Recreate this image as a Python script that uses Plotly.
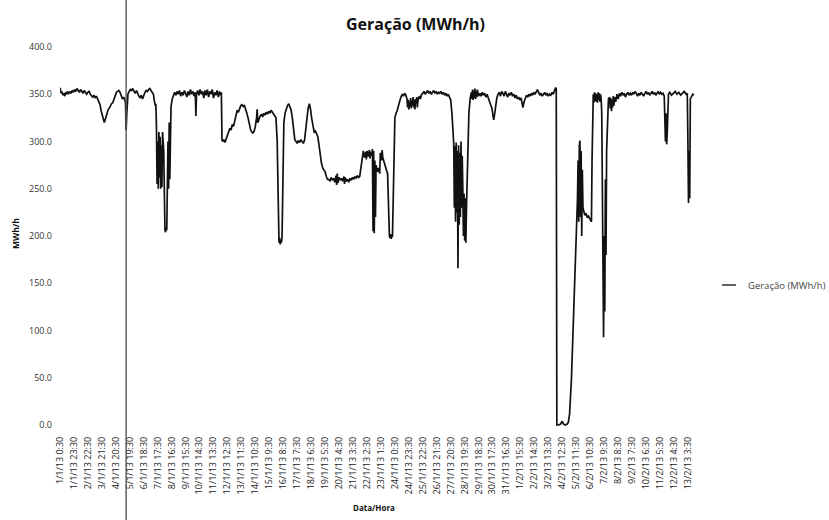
import pandas as pd
import plotly.graph_objects as go

# Hourly generation series, keyed by hours elapsed since the first reading.
START = pd.Timestamp("2013-01-01 00:30")
GERACAO_MWH = {
    0: 357, 1: 354, 2: 351, 3: 353, 5: 349, 6: 351, 8: 348, 9: 352, 11: 350, 12: 353,
    14: 350, 16: 353, 18: 351, 20: 354, 22: 352, 24: 355, 26: 353, 28: 356, 30: 354, 32: 352,
    34: 355, 36: 353, 38: 351, 40: 354, 42: 352, 44: 350, 46: 352, 48: 353, 50: 350, 52: 348,
    54: 347, 56: 349, 58: 346, 60: 348, 62: 345, 64: 343, 66: 339, 68: 332, 70: 326, 72: 322,
    73: 320, 75: 324, 77: 330, 79: 333, 81: 335, 83: 338, 85: 340, 87: 341, 89: 345, 91: 349,
    93: 352, 95: 353, 97: 354, 99: 352, 101: 348, 103: 345, 105: 347, 107: 344, 108: 340, 109: 312,
    110: 328, 111: 345, 112: 350, 114: 353, 116: 355, 118: 354, 120: 356, 122: 353, 124: 351, 126: 354,
    128: 350, 130: 348, 132: 346, 134: 349, 136: 345, 138: 350, 140: 352, 142: 354, 144: 353, 146: 355,
    148: 356, 150: 354, 152: 352, 154: 350, 155: 345, 156: 342, 157: 338, 158: 340, 159: 315, 160: 255,
    161: 300, 162: 250, 163: 310, 164: 262, 165: 305, 166: 250, 167: 296, 168: 252, 169: 310, 170: 300,
    171: 290, 172: 230, 173: 207, 174: 204, 175: 209, 176: 206, 177: 240, 178: 300, 179: 250, 180: 320,
    181: 260, 182: 330, 183: 337, 185: 345, 187: 350, 189: 352, 191: 349, 193: 353, 195: 350, 197: 354,
    199: 348, 201: 352, 203: 349, 205: 354, 207: 351, 209: 347, 211: 353, 213: 349, 215: 355, 217: 350,
    219: 353, 221: 348, 223: 352, 224: 327, 225: 350, 227: 354, 229: 349, 231: 355, 233: 350, 235: 353,
    237: 346, 239: 354, 241: 349, 243: 355, 245: 347, 247: 353, 249: 350, 251: 355, 253: 346, 255: 352,
    257: 349, 259: 354, 261: 347, 263: 353, 265: 349, 266: 352, 267: 302, 268: 300, 270: 302, 272: 299,
    274: 303, 276: 306, 278: 310, 280: 314, 282: 312, 284: 318, 286: 316, 288: 321, 290: 328, 292: 333,
    294: 331, 296: 336, 298: 338, 300: 339, 302: 337, 304: 338, 306: 335, 308: 330, 310: 325, 312: 318,
    314: 313, 316: 310, 318: 309, 320: 311, 322: 316, 324: 325, 325: 334, 326: 320, 328: 324, 330: 327,
    332: 329, 334: 326, 336: 330, 338: 328, 340: 331, 342: 329, 344: 332, 346: 330, 348: 333, 350: 331,
    352: 329, 354: 327, 356: 325, 358: 300, 359: 250, 360: 196, 361: 193, 362: 198, 363: 191, 364: 196,
    365: 193, 366: 199, 367: 240, 368: 290, 369: 320, 371: 330, 373: 335, 375: 338, 377: 340, 379: 337,
    381: 333, 383: 325, 385: 310, 387: 302, 389: 300, 391: 298, 393: 301, 395: 299, 397: 302, 399: 300,
    401: 298, 403: 301, 405: 312, 407: 325, 409: 335, 411: 340, 413: 334, 415: 324, 417: 315, 419: 310,
    421: 311, 423: 308, 425: 305, 427: 296, 429: 285, 431: 277, 433: 272, 435: 270, 437: 268, 439: 263,
    441: 260, 443: 260, 445: 258, 447: 262, 449: 259, 451: 261, 453: 257, 455: 264, 456: 254, 457: 266,
    458: 256, 460: 262, 462: 259, 464: 261, 466: 258, 468: 263, 469: 255, 470: 262, 472: 258, 474: 260,
    476: 257, 478: 261, 480: 259, 482: 262, 484: 260, 486: 263, 488: 261, 490: 264, 492: 262, 494: 263,
    496: 272, 498: 286, 500: 290, 502: 283, 504: 289, 505: 281, 506: 290, 508: 284, 510: 291, 511: 282,
    512: 289, 514: 285, 515: 292, 516: 205, 517: 290, 518: 203, 519: 280, 520: 220, 521: 275, 523: 268,
    525: 272, 527: 266, 528: 288, 530: 280, 531: 291, 532: 283, 534: 278, 536: 272, 538: 270, 540: 266,
    541: 240, 542: 210, 543: 200, 544: 198, 545: 202, 546: 197, 547: 200, 548: 199, 549: 230, 550: 280,
    551: 310, 552: 325, 554: 330, 556: 333, 558: 338, 560: 344, 562: 347, 564: 350, 566: 348, 568: 351,
    570: 349, 572: 345, 573: 336, 574: 344, 575: 334, 576: 342, 577: 337, 578: 346, 579: 335, 580: 343,
    581: 338, 582: 347, 583: 336, 584: 344, 585: 334, 586: 345, 587: 340, 588: 347, 589: 336, 590: 343,
    592: 348, 594: 345, 596: 350, 598: 351, 600: 353, 602: 350, 604: 352, 606: 354, 608: 351, 610: 353,
    612: 350, 614: 352, 616: 354, 618: 351, 620: 353, 622: 350, 624: 352, 626: 351, 628: 353, 630: 350,
    632: 352, 634: 349, 636: 351, 638: 348, 640: 350, 642: 347, 644: 344, 646: 330, 648: 312, 649: 298,
    650: 230, 651: 295, 652: 215, 653: 299, 654: 225, 655: 290, 656: 166, 657: 296, 658: 212, 659: 288,
    660: 220, 661: 300, 662: 230, 663: 285, 664: 249, 665: 200, 666: 245, 667: 195, 668: 240, 669: 193,
    670: 230, 671: 260, 672: 300, 674: 330, 676: 345, 678: 352, 679: 345, 680: 355, 681: 344, 682: 354,
    683: 346, 684: 356, 685: 345, 686: 353, 687: 347, 688: 355, 690: 348, 692: 351, 694: 348, 696: 352,
    698: 349, 700: 351, 702: 347, 704: 350, 706: 346, 708: 343, 710: 338, 712: 335, 714: 326, 715: 323,
    716: 327, 718: 340, 720: 346, 722: 350, 724: 352, 726: 348, 728: 353, 730: 351, 732: 348, 734: 353,
    736: 350, 738: 347, 740: 351, 742: 349, 744: 352, 746: 348, 748: 350, 750: 346, 752: 349, 754: 345,
    756: 347, 758: 344, 760: 346, 762: 340, 763: 336, 765: 342, 767: 346, 769: 349, 771: 347, 773: 350,
    775: 348, 777: 351, 779: 349, 781: 352, 783: 350, 785: 353, 787: 355, 789: 352, 791: 349, 793: 351,
    795: 348, 797: 350, 799: 352, 801: 349, 803: 351, 805: 348, 807: 350, 809: 349, 811: 352, 813: 350,
    815: 353, 817: 357, 818: 356, 819: 0, 822: 0, 825: 1, 828: 4, 830: 1, 833: 0, 836: 1,
    838: 3, 840: 12, 843: 48, 845: 83, 847: 130, 849: 171, 851: 200, 852: 207, 853: 240, 854: 280,
    855: 215, 856: 295, 857: 301, 858: 220, 859: 290, 860: 200, 861: 270, 862: 230, 863: 226, 865: 222,
    867: 224, 869: 220, 871: 221, 873: 218, 875: 217, 876: 215, 877: 280, 878: 347, 879: 350, 880: 341,
    881: 352, 882: 343, 883: 351, 884: 342, 885: 350, 886: 341, 887: 352, 888: 344, 889: 351, 890: 342,
    891: 350, 892: 345, 893: 330, 894: 250, 895: 160, 896: 93, 897: 200, 898: 120, 899: 260, 900: 180,
    901: 290, 902: 320, 903: 330, 904: 345, 906: 347, 907: 335, 908: 346, 909: 332, 910: 344, 911: 336,
    912: 348, 913: 338, 914: 347, 916: 342, 918: 350, 920: 345, 922: 351, 924: 348, 926: 352, 928: 349,
    930: 351, 932: 347, 934: 350, 936: 352, 938: 349, 940: 351, 942: 349, 944: 352, 946: 350, 948: 353,
    950: 351, 952: 348, 954: 351, 956: 349, 958: 352, 960: 350, 962: 348, 964: 351, 966: 353, 968: 350,
    970: 352, 972: 349, 974: 351, 976: 353, 978: 350, 980: 352, 982: 349, 984: 351, 986: 353, 988: 350,
    990: 352, 992: 350, 994: 351, 996: 348, 997: 320, 998: 300, 999: 330, 1000: 297, 1001: 310, 1002: 340,
    1003: 350, 1005: 352, 1008: 349, 1011: 351, 1014: 353, 1017: 350, 1020: 352, 1023: 349, 1026: 351, 1029: 353,
    1032: 350, 1034: 351, 1035: 300, 1036: 235, 1037: 290, 1038: 240, 1039: 345, 1041: 348, 1043: 350, 1045: 349,
}

# Category labels every 23 readings, formatted d/m/yy h:mm
TICK_STEP_HOURS = 23
TICK_COUNT = 46
TICK_TIMES = [START + pd.Timedelta(hours=TICK_STEP_HOURS * k) for k in range(TICK_COUNT)]
TICK_LABELS = [f"{t.day}/{t.month}/{t:%y} {t.hour}:{t.minute:02d}" for t in TICK_TIMES]

Y_TICKS = [0, 50, 100, 150, 200, 250, 300, 350, 400]
Y_TICK_LABELS = [f"{v:.1f}" for v in Y_TICKS]

AXIS_CROSS_HOUR = 109   # reading where the vertical axis crosses
X_END_HOUR = 1050

TITLE = "Geração (MWh/h)"
SERIES_NAME = "Geração (MWh/h)"
X_TITLE = "Data/Hora"
Y_TITLE = "MWh/h"

times = [START + pd.Timedelta(hours=h) for h in GERACAO_MWH]
values = list(GERACAO_MWH.values())

W, H = 829, 520
M = dict(l=60, r=132, t=47, b=93)
PW, PH = W - M["l"] - M["r"], H - M["t"] - M["b"]


def px(x):
    return (x - M["l"]) / PW


def py(y):
    return (H - M["b"] - y) / PH


FONT = "Open Sans, Liberation Sans, Arial, sans-serif"

fig = go.Figure()
fig.add_trace(go.Scatter(
    x=times, y=values, mode="lines", name=SERIES_NAME,
    line=dict(color="#111111", width=1.7), showlegend=False,
))

fig.update_layout(
    width=W, height=H, margin=M, autosize=False,
    paper_bgcolor="white", plot_bgcolor="white",
    font=dict(family=FONT, color="#222222"),
    xaxis=dict(
        type="date",
        range=[START, START + pd.Timedelta(hours=X_END_HOUR)],
        tickmode="array", tickvals=TICK_TIMES, ticktext=TICK_LABELS,
        tickangle=-90, tickfont=dict(size=9, color="#222222"),
        showgrid=False, zeroline=False, showline=False, ticks="",
        ticklabelstandoff=7,
    ),
    yaxis=dict(
        range=[-2.1, 400],
        tickmode="array", tickvals=Y_TICKS, ticktext=Y_TICK_LABELS,
        tickfont=dict(size=9, color="#333333"),
        showgrid=False, zeroline=False, showline=False, ticks="",
        ticklabelstandoff=7,
    ),
    yaxis2=dict(
        overlaying="y", anchor="free",
        position=AXIS_CROSS_HOUR / X_END_HOUR,
        range=[-2.1, 400], tickmode="array", tickvals=Y_TICKS,
        showticklabels=False, ticks="outside", ticklen=3,
        tickcolor="#555555", tickwidth=1,
        showgrid=False, zeroline=False, showline=False,
    ),
)

# Vertical axis line at its crossing category
fig.add_shape(
    type="line", xref="x", yref="paper",
    x0=START + pd.Timedelta(hours=AXIS_CROSS_HOUR),
    x1=START + pd.Timedelta(hours=AXIS_CROSS_HOUR),
    y0=py(H), y1=py(0),
    line=dict(color="#555555", width=1.4),
)

# Legend entry
fig.add_shape(
    type="line", xref="paper", yref="paper",
    x0=px(722), x1=px(736), y0=py(285), y1=py(285),
    line=dict(color="#222222", width=1.4),
)
fig.add_annotation(
    xref="paper", yref="paper", x=px(746), y=py(285),
    text=SERIES_NAME, showarrow=False, xanchor="left", yanchor="middle",
    font=dict(size=9.5, color="#444444", family=FONT),
)

# Chart and axis titles
fig.add_annotation(
    xref="paper", yref="paper", x=px(415), y=py(24),
    text=f"<b>{TITLE}</b>", showarrow=False, xanchor="center", yanchor="middle",
    font=dict(size=16, color="#111111", family=FONT),
)
fig.add_annotation(
    xref="paper", yref="paper", x=px(374), y=py(507),
    text=f"<b>{X_TITLE}</b>", showarrow=False, xanchor="center", yanchor="middle",
    font=dict(size=8, color="#111111", family=FONT),
)
fig.add_annotation(
    xref="paper", yref="paper", x=px(15), y=py(234),
    text=f"<b>{Y_TITLE}</b>", showarrow=False, textangle=-90,
    xanchor="center", yanchor="middle",
    font=dict(size=8.5, color="#111111", family=FONT),
)

fig.write_html("out.html")
